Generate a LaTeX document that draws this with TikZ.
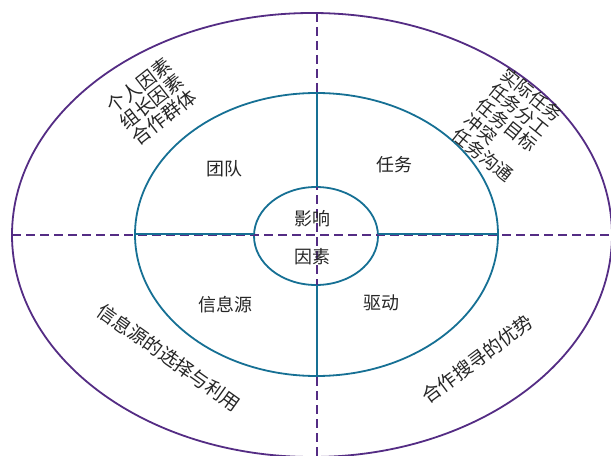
\documentclass[tikz,border=0pt]{standalone}
\usepackage{fontspec}
\newfontfamily\cjk{Noto Sans CJK SC}
\definecolor{ringpurple}{RGB}{84,44,132}
\definecolor{ringteal}{RGB}{22,112,148}

\begin{document}
\begin{tikzpicture}[x=1bp, y=-1bp,
  ring/.style={line width=1.8bp},
  divider/.style={ringpurple, line width=1.8bp, dash pattern=on 9bp off 5bp},
  spoke/.style={ringteal, line width=1.8bp},
  lbl/.style={font=\cjk\fontsize{18}{18}\selectfont, text=black!85, inner sep=0pt},
  side/.style={font=\cjk\fontsize{19}{19}\selectfont, text=black!85, inner sep=0pt, align=left}]
\useasboundingbox (0, 0) rectangle (611, 456);
\fill[white] (0, 0) rectangle (611, 456);
\path (317, 235) coordinate (mid);
% rings
\draw [ring, ringpurple] (312, 235) ellipse [x radius=300, y radius=222];
\draw [ring, ringteal] (316.5, 234.5) ellipse [x radius=181.5, y radius=141.5];
\draw [ring, ringteal] (316, 236) ellipse [x radius=62, y radius=49];
% dividers
\draw [divider] (12, 235) -- (611, 235);
\draw [divider] (317, 13) -- (317, 456);
\draw [spoke] (135, 234) -- (254, 234);
\draw [spoke] (378, 234) -- (498, 234);
\draw [spoke] (317, 93) -- (317, 187);
\draw [spoke] (317, 285) -- (317, 376);
% labels
\node[lbl] (core1) at (312, 219) {影响};
\node[lbl] (core2) at (312, 256.5) {因素};
\node[lbl] (team) at (224.5, 168.5) {团队};
\node[lbl] (task) at (394, 165) {任务};
\node[lbl] (info) at (225.5, 305) {信息源};
\node[lbl] (drive) at (381.5, 303) {驱动};
\node[side, rotate=38, font=\cjk\fontsize{19}{20}\selectfont] (people) at (151.5, 101.5) {个人因素\\组长因素\\合作群体};
\node[side, rotate=-39, font=\cjk\fontsize{18}{19.5}\selectfont] (work) at (507, 125) {实际任务\\任务分工\\任务目标\\冲突\\任务沟通};
\node[side, rotate=-35.4] (choose) at (169, 357.5) {信息源的选择与利用};
\node[side, rotate=36.8] (gain) at (477.5, 359) {合作搜寻的优势};
\end{tikzpicture}
\end{document}
